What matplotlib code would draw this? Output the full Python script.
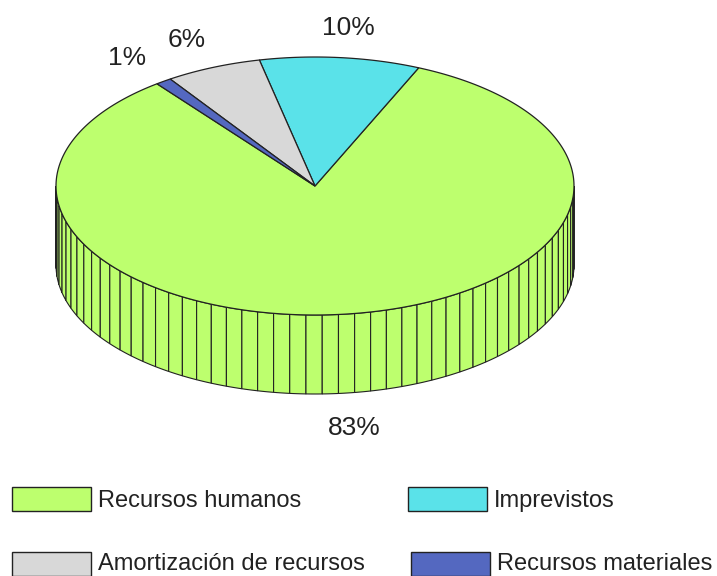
import numpy as np
import matplotlib
matplotlib.use("Agg")
import matplotlib.pyplot as plt
from matplotlib.patches import Polygon, Rectangle

plt.rcParams['font.family'] = ['Liberation Sans', 'DejaVu Sans']

# datos del grafico
categorias = ["Recursos humanos", "Imprevistos", "Amortización de recursos", "Recursos materiales"]
valores = [83, 10, 6, 1]
etiquetas = ["83%", "10%", "6%", "1%"]
colores = ["#BDFF6E", "#5AE2E9", "#D8D8D8", "#5468C0"]

# geometria de la tarta
cx, cy = 315, 186
rx, ry = 259, 129
alto = 79
inicio = 127.6

fig = plt.figure(figsize=(7.17, 5.76), dpi=100)
ax = fig.add_axes([0, 0, 1, 1])
ax.set_xlim(0, 717)
ax.set_ylim(576, 0)
ax.axis("off")

def borde(t):
    t = np.radians(t)
    return cx + rx * np.cos(t), cy - ry * np.sin(t)

# cara lateral, solo se ve la mitad de abajo (un segmento por cada 1%)
ang = inicio
for v, c in zip(valores, colores):
    for a in ang + np.arange(v) * 3.6:
        a2 = a % 360
        b2 = a2 + 3.6
        ini, fin = max(a2, 180), min(b2, 360)
        if fin <= ini:
            continue
        x, y = borde(np.linspace(ini, fin, 6))
        pts = np.r_[np.c_[x, y], np.c_[x[::-1], y[::-1] + alto]]
        ax.add_patch(Polygon(pts, closed=True, fc=c, ec="#222222", lw=0.8, zorder=1))
    ang += v * 3.6

# cara de arriba
ang = inicio
for v, c in zip(valores, colores):
    t = np.linspace(ang, ang + v * 3.6, max(v * 4, 12))
    x, y = borde(t)
    pts = np.r_[[[cx, cy]], np.c_[x, y]]
    ax.add_patch(Polygon(pts, closed=True, fc=c, ec="#222222", lw=0.9, zorder=2))
    ang += v * 3.6

# etiquetas de porcentaje
pos_etiquetas = [(354, 428), (348, 28), (187, 40), (127, 58)]
for e, (px, py) in zip(etiquetas, pos_etiquetas):
    ax.text(px, py, e, fontsize=19, color="#222222", ha="center", va="center", zorder=3)

# leyenda
pos_leyenda = [(12, 487, 98, 501), (408, 487, 494, 501), (12, 552, 98, 564), (411, 552, 497, 564)]
for nombre, c, (rx0, ry0, tx, ty) in zip(categorias, colores, pos_leyenda):
    ax.add_patch(Rectangle((rx0, ry0), 79, 24, fc=c, ec="#222222", lw=1.0))
    ax.text(tx, ty, nombre, fontsize=17, color="#222222", ha="left", va="center")

fig.savefig("out.png", dpi=100)
